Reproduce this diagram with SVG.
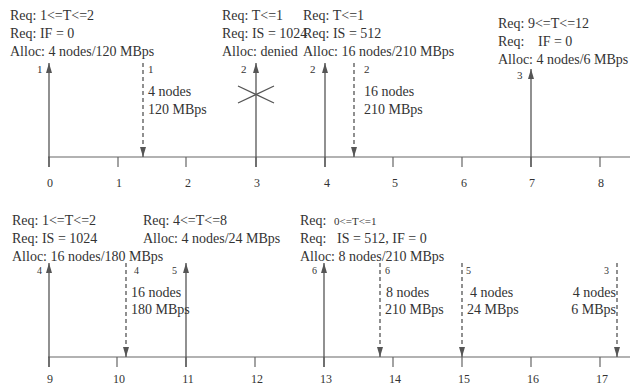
<svg xmlns="http://www.w3.org/2000/svg" width="630" height="385" viewBox="0 0 630 385">
<defs>
<marker id="up" markerWidth="10" markerHeight="6" refX="10" refY="3" orient="auto" markerUnits="userSpaceOnUse" viewBox="0 0 10 6">
<path d="M10,3 L0,0 L0,6 Z" fill="#555"/>
</marker>
<style>
text{font-family:"Liberation Serif","Times New Roman",serif;fill:#333}
.t{font-size:14px}
.s{font-size:11px}
.a{font-size:10px}
.n{font-size:12px}
.ax{stroke:#666;stroke-width:1.2;fill:none}
.sol{stroke:#555;stroke-width:1.3;fill:none}
.das{stroke:#555;stroke-width:1.3;fill:none;stroke-dasharray:4 3}
</style>
</defs>
<rect width="630" height="385" fill="#fff"/>

<g id="axis-top">
<line class="ax" x1="48" y1="157" x2="630" y2="157"/>
<path class="ax" d="M49,157V167M118,157V167M186,157V167M256,157V167M325,157V167M393,157V167M462,157V167M531,157V167M600,157V167"/>
<g class="n" text-anchor="middle">
<text x="50" y="187">0</text><text x="119" y="187">1</text><text x="188" y="187">2</text><text x="257" y="187">3</text><text x="327" y="187">4</text><text x="395" y="187">5</text><text x="464" y="187">6</text><text x="532" y="187">7</text><text x="601" y="187">8</text>
</g>
</g>

<g id="axis-bottom">
<line class="ax" x1="48" y1="357" x2="630" y2="357"/>
<path class="ax" d="M49,357V367M117,357V367M186,357V367M255,357V367M324,357V367M393,357V367M462,357V367M531,357V367M600,357V367"/>
<g class="n" text-anchor="middle">
<text x="50" y="383">9</text><text x="119" y="383">10</text><text x="188" y="383">11</text><text x="257" y="383">12</text><text x="326" y="383">13</text><text x="395" y="383">14</text><text x="464" y="383">15</text><text x="533" y="383">16</text><text x="602" y="383">17</text>
</g>
</g>

<g id="req1">
<text class="t" x="10" y="20">Req: 1&lt;=T&lt;=2</text>
<text class="t" x="10" y="38">Req: IF = 0</text>
<text class="t" x="10" y="56">Alloc: 4 nodes/120 MBps</text>
</g>
<g id="req2">
<text class="t" x="222" y="20">Req: T&lt;=1</text>
<text class="t" x="222" y="38">Req: IS = 1024</text>
<text class="t" x="222" y="56">Alloc: denied</text>
</g>
<g id="req3">
<text class="t" x="303" y="20">Req: T&lt;=1</text>
<text class="t" x="303" y="38">Req: IS = 512</text>
<text class="t" x="303" y="56">Alloc: 16 nodes/210 MBps</text>
</g>
<g id="req4">
<text class="t" x="498" y="28">Req: 9&lt;=T&lt;=12</text>
<text class="t" x="498" y="46">Req:<tspan x="538">IF = 0</tspan></text>
<text class="t" x="498" y="64">Alloc: 4 nodes/6 MBps</text>
</g>
<g id="req5">
<text class="t" x="12" y="225">Req: 1&lt;=T&lt;=2</text>
<text class="t" x="12" y="243">Req: IS = 1024</text>
<text class="t" x="12" y="261">Alloc: 16 nodes/180 MBps</text>
</g>
<g id="req6">
<text class="t" x="143" y="225">Req: 4&lt;=T&lt;=8</text>
<text class="t" x="143" y="243">Alloc: 4 nodes/24 MBps</text>
</g>
<g id="req7">
<text class="t" x="300" y="225">Req:<tspan class="s" x="334">0&lt;=T&lt;=1</tspan></text>
<text class="t" x="300" y="243">Req:<tspan x="337">IS = 512, IF = 0</tspan></text>
<text class="t" x="300" y="261">Alloc: 8 nodes/210 MBps</text>
</g>

<g id="connectors">
<line class="sol" x1="49" y1="167" x2="49" y2="63" marker-end="url(#up)"/>
<line class="das" x1="143" y1="63" x2="143" y2="157" marker-end="url(#up)"/>
<line class="sol" x1="256" y1="167" x2="256" y2="63" marker-end="url(#up)"/>
<line class="sol" x1="325" y1="167" x2="325" y2="63" marker-end="url(#up)"/>
<line class="das" x1="354" y1="63" x2="354" y2="157" marker-end="url(#up)"/>
<line class="sol" x1="531" y1="167" x2="531" y2="69" marker-end="url(#up)"/>
<path class="sol" d="M238,86L274,103M238,103L274,86"/>

<line class="sol" x1="49" y1="367" x2="49" y2="263" marker-end="url(#up)"/>
<line class="das" x1="126" y1="263" x2="126" y2="357" marker-end="url(#up)"/>
<line class="sol" x1="186" y1="367" x2="186" y2="263" marker-end="url(#up)"/>
<line class="sol" x1="324" y1="367" x2="324" y2="263" marker-end="url(#up)"/>
<line class="das" x1="380" y1="263" x2="380" y2="357" marker-end="url(#up)"/>
<line class="das" x1="462" y1="263" x2="462" y2="357" marker-end="url(#up)"/>
<line class="das" x1="617" y1="263" x2="617" y2="357" marker-end="url(#up)"/>
</g>

<g id="labels-top">
<text class="s" x="37" y="73">1</text>
<text class="s" x="148" y="73">1</text>
<text class="t" x="148" y="96">4 nodes</text>
<text class="t" x="148" y="114">120 MBps</text>
<text class="s" x="241" y="73">2</text>
<text class="s" x="310" y="73">2</text>
<text class="s" x="364" y="73">2</text>
<text class="t" x="364" y="96">16 nodes</text>
<text class="t" x="364" y="114">210 MBps</text>
<text class="s" x="517" y="79">3</text>
</g>

<g id="labels-bottom">
<text class="a" x="37" y="274">4</text>
<text class="a" x="134" y="274">4</text>
<text class="t" x="131" y="297">16 nodes</text>
<text class="t" x="131" y="314">180 MBps</text>
<text class="a" x="172" y="274">5</text>
<text class="a" x="312" y="274">6</text>
<text class="a" x="385" y="274">6</text>
<text class="t" x="386" y="297">8 nodes</text>
<text class="t" x="385" y="314">210 MBps</text>
<text class="a" x="466" y="274">5</text>
<text class="t" x="470" y="297">4 nodes</text>
<text class="t" x="467" y="314">24 MBps</text>
<text class="a" x="604" y="274">3</text>
<text class="t" x="616" y="297" text-anchor="end">4 nodes</text>
<text class="t" x="616" y="314" text-anchor="end">6 MBps</text>
</g>
</svg>
